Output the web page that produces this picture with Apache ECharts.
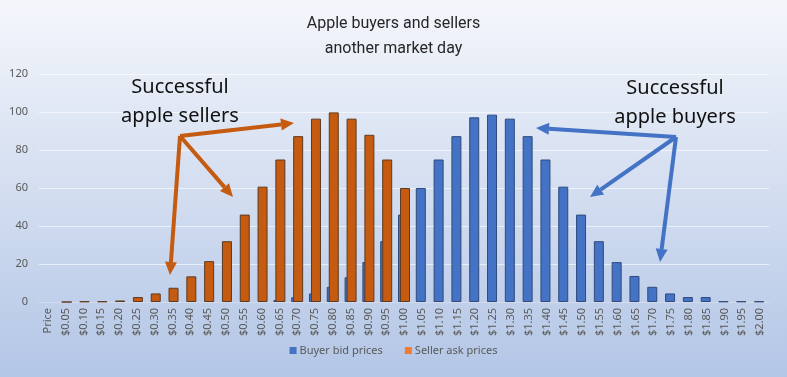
<!DOCTYPE html>
<html>
<head>
<meta charset="utf-8">
<script src="https://cdn.jsdelivr.net/npm/echarts@6/dist/echarts.min.js"></script>
<style>
html, body { margin: 0; padding: 0; }
#chart { width: 787px; height: 377px; }
</style>
</head>
<body>
<div id="chart"></div>
<script>
const categories = ['Price', '$0.05', '$0.10', '$0.15', '$0.20', '$0.25', '$0.30', '$0.35', '$0.40', '$0.45',
  '$0.50', '$0.55', '$0.60', '$0.65', '$0.70', '$0.75', '$0.80', '$0.85', '$0.90', '$0.95',
  '$1.00', '$1.05', '$1.10', '$1.15', '$1.20', '$1.25', '$1.30', '$1.35', '$1.40', '$1.45',
  '$1.50', '$1.55', '$1.60', '$1.65', '$1.70', '$1.75', '$1.80', '$1.85', '$1.90', '$1.95', '$2.00']
const buyerBids = [null, null, null, null, null, null, null, null, null, null,
  null, null, null, 1, 2.5, 4.5, 8, 13, 21, 32,
  46, 60, 75, 87.3, 97.2, 98.6, 96.5, 87.3, 75, 60.7,
  46, 32, 21, 13.7, 8, 4.5, 2.6, 2.6, 0.3, 0.3, 0.3]
const sellerAsks = [null, 0, 0.3, 0.3, 0.8, 2.6, 4.5, 7.5, 13.5, 21.5,
  32, 46, 60.7, 75, 87.3, 96.5, 99.8, 96.5, 88, 75,
  60, null, null, null, null, null, null, null, null, null,
  null, null, null, null, null, null, null, null, null, null, null]
const yTicks = [0, 20, 40, 60, 80, 100, 120]

const ORANGE = '#c55a11'
const BLUE = '#4472c4'

// annotation arrows (pixel positions, from the picture)
const sellerArrows = [[180, 136], [[294, 123], [233, 197], [170, 275]]]
const buyerArrows = [[676, 137], [[536, 128], [590, 197], [660, 262]]]

function arrows(spec, color) {
  const [from, tos] = spec
  const out = []
  tos.forEach(to => {
    const dx = to[0] - from[0], dy = to[1] - from[1]
    const len = Math.sqrt(dx * dx + dy * dy)
    const ux = dx / len, uy = dy / len
    const head = 13, half = 6
    const bx = to[0] - ux * head, by = to[1] - uy * head
    out.push({
      type: 'line', silent: true, z: 100,
      shape: { x1: from[0], y1: from[1], x2: bx, y2: by },
      style: { stroke: color, lineWidth: 4 }
    })
    out.push({
      type: 'polygon', silent: true, z: 100,
      shape: { points: [[to[0], to[1]], [bx - uy * half, by + ux * half], [bx + uy * half, by - ux * half]] },
      style: { fill: color }
    })
  })
  return out
}

const chart = echarts.init(document.getElementById('chart'))
const option = {
  animation: false,
  backgroundColor: new echarts.graphic.LinearGradient(0, 0, 0, 1, [
    { offset: 0, color: '#f4f6fb' },
    { offset: 1, color: '#b3c6e6' }
  ]),
  textStyle: { fontFamily: 'Noto Sans' },
  title: {
    text: 'Apple buyers and sellers\nanother market day',
    left: 'center',
    top: 6,
    textStyle: { fontSize: 16, fontWeight: 'normal', color: '#262626', lineHeight: 25, fontFamily: 'Roboto' }
  },
  legend: {
    bottom: 16,
    left: 'center',
    itemWidth: 7,
    itemHeight: 7,
    itemGap: 22,
    icon: 'rect',
    textStyle: { fontSize: 11, color: '#595959', padding: [0, 0, 0, -2] },
    data: [
      { name: 'Buyer bid prices', itemStyle: { color: BLUE, borderWidth: 0 } },
      { name: 'Seller ask prices', itemStyle: { color: '#ed7d31', borderWidth: 0 } }
    ]
  },
  grid: { left: 39, right: 18, top: 74, bottom: 75 },
  xAxis: {
    type: 'category',
    data: categories,
    axisLine: { lineStyle: { color: '#d3dbea' } },
    axisTick: { show: false },
    axisLabel: { rotate: 90, fontSize: 11, color: '#595959', margin: 6, interval: 0 }
  },
  yAxis: {
    type: 'value',
    min: yTicks[0],
    max: yTicks[yTicks.length - 1],
    interval: 20,
    axisLine: { show: false },
    axisTick: { show: false },
    axisLabel: { fontSize: 11, color: '#595959', margin: 11 },
    splitLine: { lineStyle: { color: 'rgba(255,255,255,0.6)' } }
  },
  series: [
    {
      name: 'Buyer bid prices',
      type: 'bar',
      data: buyerBids,
      barWidth: 10,
      barGap: '-80%',
      z: 2,
      itemStyle: { color: BLUE, borderColor: '#2f4b7c', borderWidth: 1 }
    },
    {
      name: 'Seller ask prices',
      type: 'bar',
      data: sellerAsks,
      barWidth: 10,
      barGap: '-80%',
      z: 3,
      itemStyle: { color: ORANGE, borderColor: '#5e3a22', borderWidth: 1 }
    }
  ],
  graphic: [
    {
      type: 'text', x: 180, y: 73, silent: true, z: 100,
      style: { text: 'Successful\napple sellers', fontSize: 20, lineHeight: 29, fill: '#111', align: 'center', verticalAlign: 'top', fontFamily: 'Noto Sans' }
    },
    {
      type: 'text', x: 675, y: 74, silent: true, z: 100,
      style: { text: 'Successful\napple buyers', fontSize: 20, lineHeight: 29, fill: '#111', align: 'center', verticalAlign: 'top', fontFamily: 'Noto Sans' }
    }
  ].concat(arrows(sellerArrows, ORANGE), arrows(buyerArrows, BLUE))
}
chart.setOption(option)
</script>
</body>
</html>
